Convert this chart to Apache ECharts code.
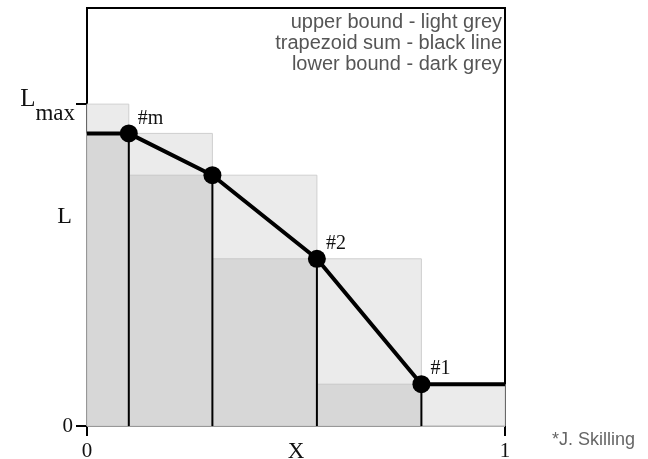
<!DOCTYPE html>
<html>
<head>
<meta charset="utf-8">
<script src="https://cdn.jsdelivr.net/npm/echarts@6/dist/echarts.min.js"></script>
<style>html,body{margin:0;padding:0;background:#fff}#c{width:648px;height:459px}</style>
</head>
<body>
<div id="c"></div>
<script>
// ---- data ----
var xEdges = [0, 0.1, 0.3, 0.55, 0.8, 1];
var upperBound = [0.77, 0.70, 0.60, 0.40, 0.10];
var lowerBound = [0.70, 0.60, 0.40, 0.10, 0];
var trapX = [0, 0.1, 0.3, 0.55, 0.8, 1];
var trapY = [0.70, 0.70, 0.60, 0.40, 0.10, 0.10];
var pointX = [0.1, 0.3, 0.55, 0.8];
var pointY = [0.70, 0.60, 0.40, 0.10];
var pointLabels = ['#m', '', '#2', '#1'];
var lMax = 0.77;
var yTicks = [0, lMax];
var xTicks = [0, 1];
var legendLines = ['upper bound - light grey', 'trapezoid sum - black line', 'lower bound - dark grey'];
var credit = '*J. Skilling';

var upperData = upperBound.map(function (h, i) { return [xEdges[i], xEdges[i + 1], h]; });
var lowerData = lowerBound.map(function (h, i) { return [xEdges[i], xEdges[i + 1], h]; });
var lineData = trapX.map(function (x, i) { return [x, trapY[i]]; });
var pointData = pointX.map(function (x, i) { return { value: [x, pointY[i]], label: { formatter: pointLabels[i] } }; });
var vertData = pointX.map(function (x, i) { return [x, pointY[i]]; });

function rectItem(fill, stroke) {
  return function (params, api) {
    var p0 = api.coord([api.value(0), api.value(2)]);
    var p1 = api.coord([api.value(1), 0]);
    return {
      type: 'rect',
      shape: { x: p0[0], y: p0[1], width: p1[0] - p0[0], height: p1[1] - p0[1] },
      style: { fill: fill, stroke: stroke, lineWidth: 1 }
    };
  };
}

var serif = 'Liberation Serif';
var chart = echarts.init(document.getElementById('c'));
chart.setOption({
  animation: false,
  grid: { left: 87, right: 143, top: 8, bottom: 33, outerBoundsMode: 'none', containLabel: false, show: true, borderColor: '#000', borderWidth: 2, backgroundColor: 'transparent' },
  xAxis: {
    type: 'value', min: 0, max: 1,
    name: 'X', nameLocation: 'middle', nameGap: 14, nameMoveOverlap: false,
    nameTextStyle: { fontFamily: serif, fontSize: 23, color: '#111' },
    axisLine: { lineStyle: { color: '#000', width: 2 } },
    axisTick: { show: true, length: 10, customValues: xTicks, lineStyle: { color: '#000', width: 2 } },
    axisLabel: { customValues: xTicks, margin: 15, fontFamily: serif, fontSize: 21, color: '#111' },
    splitLine: { show: false }
  },
  yAxis: {
    type: 'value', min: 0, max: 1,
    name: 'L', nameLocation: 'middle', nameRotate: 0, nameGap: 15, nameMoveOverlap: false,
    nameTextStyle: { fontFamily: serif, fontSize: 24, color: '#111' },
    axisLine: { show: true, lineStyle: { color: '#000', width: 2 } },
    axisTick: { show: true, inside: false, length: 11, customValues: yTicks, lineStyle: { color: '#000', width: 2 } },
    axisLabel: {
      customValues: yTicks, margin: 12, color: '#111',
      formatter: function (v) { return v === 0 ? '{z|0}' : '{a|L}{b|max}'; },
      rich: {
        z: { fontFamily: serif, fontSize: 21, padding: [0, 2, 0, 0] },
        a: { fontFamily: serif, fontSize: 25, padding: [0, 0, 10, 0] },
        b: { fontFamily: serif, fontSize: 23, padding: [20, 0, 0, 0] }
      }
    },
    splitLine: { show: false }
  },
  series: [
    { type: 'custom', renderItem: rectItem('#ebebeb', '#cfcfcf'), data: upperData, z: 1 },
    { type: 'custom', renderItem: rectItem('#d7d7d7', '#c8c8c8'), data: lowerData, z: 2 },
    {
      type: 'custom', z: 3, data: vertData,
      renderItem: function (params, api) {
        var a = api.coord([api.value(0), 0]);
        var b = api.coord([api.value(0), api.value(1)]);
        return { type: 'line', shape: { x1: a[0], y1: a[1], x2: b[0], y2: b[1] }, style: { stroke: '#000', lineWidth: 2 } };
      }
    },
    { type: 'line', data: lineData, z: 4, showSymbol: false, symbol: 'none', lineStyle: { color: '#000', width: 4 } },
    {
      type: 'scatter', data: pointData, z: 5, symbol: 'circle', symbolSize: 18,
      itemStyle: { color: '#000', opacity: 1 },
      label: { show: true, position: 'right', distance: 0, offset: [0, -15], fontFamily: serif, fontSize: 20, color: '#111' }
    }
  ],
  graphic: [
    { type: 'text', x: 502, y: 12, style: { text: legendLines.join('\n'), font: '20px "Liberation Sans"', lineHeight: 21, fill: '#555', align: 'right' } },
    { type: 'text', x: 552, y: 431, style: { text: credit, font: '18px "Liberation Sans"', fill: '#666' } }
  ]
});
</script>
</body>
</html>
